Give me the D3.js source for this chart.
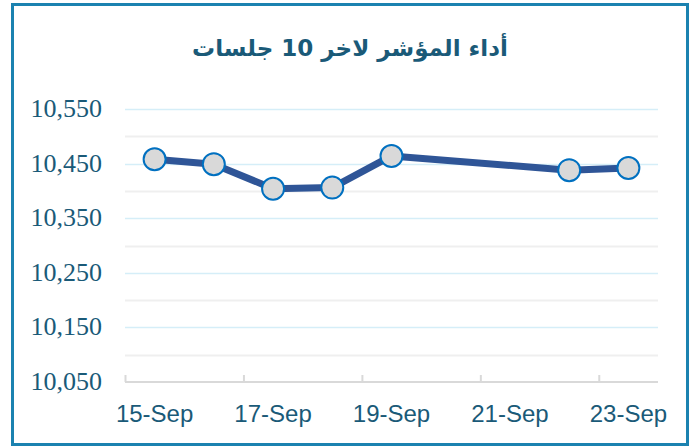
<!DOCTYPE html>
<html>
<head>
<meta charset="utf-8">
<script src="https://cdn.jsdelivr.net/npm/d3@7"></script>
<style>
  body { margin: 0; background: #fff; }
</style>
</head>
<body>
<div id="chart"></div>
<script>
// Index level for the last sessions (days of September)
const days = [15, 16, 17, 18, 19, 22, 23];
const values = [10458, 10449, 10404, 10406, 10464, 10438, 10442];
const yTicks = [10050, 10150, 10250, 10350, 10450, 10550];
const xLabelDays = [15, 17, 19, 21, 23];
const title = 'أداء المؤشر لاخر 10 جلسات';

const width = 699;
const height = 447;

const svg = d3.select('#chart')
  .append('svg')
    .attr('width', width)
    .attr('height', height);

// Outer frame
svg.append('rect')
  .attr('x', 12.5)
  .attr('y', 4.5)
  .attr('width', 675)
  .attr('height', 440)
  .attr('fill', '#fff')
  .attr('stroke', '#1b82b0')
  .attr('stroke-width', 3);

// Title
svg.append('text')
  .attr('x', 350)
  .attr('y', 56)
  .attr('text-anchor', 'middle')
  .attr('direction', 'rtl')
  .attr('font-family', 'DejaVu Sans, sans-serif')
  .attr('font-weight', 'bold')
  .attr('font-size', 23)
  .attr('fill', '#1a5a78')
  .text(title);

// Scales: date axis with labels centred between tick marks
const x = d3.scaleLinear()
  .domain([14.5, 23.5])
  .range([125, 658]);

const y = d3.scaleLinear()
  .domain([10050, 10550])
  .range([382, 109]);

// Gridlines: labelled levels light blue, mid levels light gray
const minorTicks = d3.range(10100, 10551, 100);
svg.append('g')
  .selectAll('line')
  .data(minorTicks)
  .join('line')
    .attr('x1', 125)
    .attr('x2', 658)
    .attr('y1', (d) => Math.round(y(d)) + 0.5)
    .attr('y2', (d) => Math.round(y(d)) + 0.5)
    .attr('stroke', '#efefef')
    .attr('stroke-width', 2);

svg.append('g')
  .selectAll('line')
  .data(yTicks.slice(1))
  .join('line')
    .attr('x1', 125)
    .attr('x2', 658)
    .attr('y1', (d) => Math.round(y(d)) + 0.5)
    .attr('y2', (d) => Math.round(y(d)) + 0.5)
    .attr('stroke', '#d5eef8')
    .attr('stroke-width', 1.5);

// Y labels
svg.append('g')
  .selectAll('text')
  .data(yTicks)
  .join('text')
    .attr('x', 102)
    .attr('y', (d) => y(d) + 8)
    .attr('text-anchor', 'end')
    .attr('font-family', 'Liberation Serif, serif')
    .attr('font-size', 26)
    .attr('fill', '#1a5a78')
    .text((d) => d3.format(',')(d));

// X axis: tick marks at day boundaries
const xAxis = d3.axisBottom(x)
  .tickValues([14.5, 16.5, 18.5, 20.5, 22.5])
  .tickSize(-7)
  .tickFormat('');

const gx = svg.append('g')
  .attr('transform', 'translate(0,' + y(10050) + ')')
  .call(xAxis);
gx.select('.domain')
  .attr('stroke', '#d9d9d9')
  .attr('stroke-width', 2)
  .attr('d', 'M125,0H658');
gx.selectAll('.tick line')
  .attr('stroke', '#d9d9d9')
  .attr('stroke-width', 2);

// X labels
svg.append('g')
  .selectAll('text')
  .data(xLabelDays)
  .join('text')
    .attr('x', (d) => x(d))
    .attr('y', 422)
    .attr('text-anchor', 'middle')
    .attr('font-family', 'Liberation Sans, Arial, sans-serif')
    .attr('font-size', 24)
    .attr('fill', '#1a5a78')
    .text((d) => d + '-Sep');

// Line
const points = days.map((d, i) => ({ x: d, y: values[i] }));
svg.append('path')
  .datum(points)
  .attr('fill', 'none')
  .attr('stroke', '#2f5597')
  .attr('stroke-width', 7)
  .attr('stroke-linejoin', 'round')
  .attr('d', d3.line()
    .x((d) => x(d.x))
    .y((d) => y(d.y))
  );

// Markers
svg.append('g')
  .selectAll('circle')
  .data(points)
  .join('circle')
    .attr('cx', (d) => x(d.x))
    .attr('cy', (d) => y(d.y))
    .attr('r', 11)
    .attr('fill', '#d9d9d9')
    .attr('stroke', '#0070c0')
    .attr('stroke-width', 2);
</script>
</body>
</html>
